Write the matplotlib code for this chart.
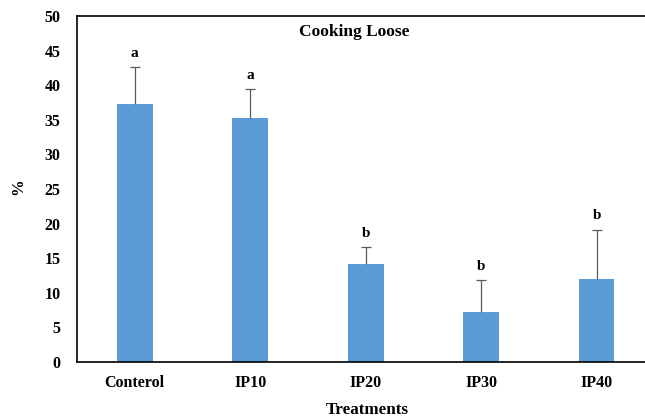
import matplotlib.pyplot as plt
import numpy as np

categories = ["Conterol", "IP10", "IP20", "IP30", "IP40"]
means = [37.3, 35.3, 14.2, 7.2, 12.0]
err_up = [5.3, 4.1, 2.4, 4.6, 7.1]
letters = ["a", "a", "b", "b", "b"]

plt.rcParams["font.family"] = ["Liberation Serif", "DejaVu Serif"]
plt.rcParams["font.weight"] = "bold"

fig = plt.figure(figsize=(6.45, 4.19), dpi=100)
ax = fig.add_axes([0.1194, 0.136, 0.895, 0.826])

x = np.arange(len(categories))
ax.bar(x, means, width=0.31, color="#5B9BD5", zorder=2)
# one-sided error bars: hide the lower cap
_, caps, _ = ax.errorbar(x, means, yerr=[np.zeros(len(means)), err_up], fmt="none",
                         ecolor="#595959", elinewidth=0.9, capsize=3.5,
                         capthick=0.9, zorder=3)
caps[0].set_visible(False)
for xi, m, e, l in zip(x, means, err_up, letters):
    ax.text(xi, m + e + 2.0, l, ha="center", va="center", fontsize=11, fontweight="bold")

ax.set_xlim(-0.5, 4.5)
ax.set_ylim(0, 50)
ax.set_yticks(np.arange(0, 51, 5))
ax.set_xticks(x)
ax.set_xticklabels(categories)
ax.tick_params(length=0, labelsize=11.5, pad=9)
ax.tick_params(axis="y", pad=12)
for s in ax.spines.values():
    s.set_linewidth(1.2)
    s.set_color("black")
ax.text(0.48, 0.953, "Cooking Loose", transform=ax.transAxes, ha="center",
        va="center", fontsize=12.5, fontweight="bold")
fig.text(0.028, 0.554, "%", rotation=90, ha="center", va="center",
         fontsize=12, fontweight="bold")
fig.text(0.569, 0.022, "Treatments", ha="center", va="center",
         fontsize=12.3, fontweight="bold")

fig.savefig("out.png", dpi=100)
